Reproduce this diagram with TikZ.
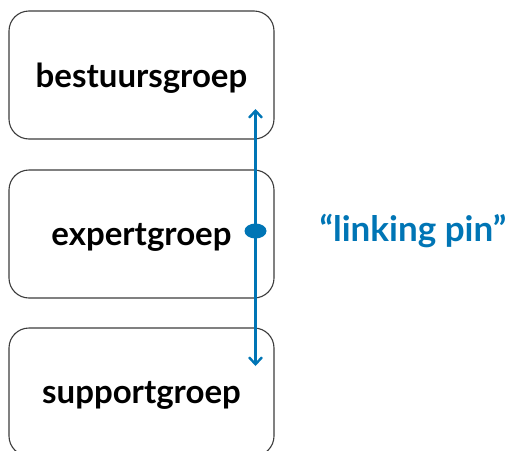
\documentclass[tikz,border=0pt]{standalone}
\usepackage{fontspec}
\setsansfont{Lato}
\usepackage{tikz}
\usetikzlibrary{arrows.meta,positioning,shapes.geometric}
\definecolor{lpedge}{RGB}{60,60,60}
\definecolor{lpblue}{RGB}{0,117,181}
\tikzset{
  grpbox/.style={
    draw=lpedge, line width=1.1pt, rounded corners=20pt,
    minimum width=265pt, minimum height=128pt, align=center,
    text depth=0pt,
    font=\fontsize{33}{38}\selectfont\sffamily\bfseries
  },
  link/.style={{Straight Barb[length=7pt,width=13pt,line width=2.4pt]}-{Straight Barb[length=7pt,width=13pt,line width=2.4pt]},
    draw=lpblue, line width=2.8pt},
  pin/.style={ellipse, fill=lpblue, inner sep=0pt, minimum width=22pt, minimum height=15pt},
  anno/.style={text=lpblue, font=\fontsize{35}{38}\selectfont\sffamily\bfseries}
}
\begin{document}
\begin{tikzpicture}[x=1pt,y=-1pt]
  \useasboundingbox (0,0) rectangle (511,450);
  \node[grpbox] (best) at (141.5,75) {bestuursgroep};
  \node[grpbox] (expert) at (141.5,234) {expertgroep};
  \node[grpbox] (support) at (141.5,392) {supportgroep};
  \coordinate (top) at (255.5,109);
  \coordinate (bot) at (255.5,366);
  \draw[link] (top) -- (bot);
  \node[pin] (dot) at (255.5,231) {};
  \node[anno, anchor=west] (lbl) at (316,231) {“linking pin”};
\end{tikzpicture}
\end{document}
